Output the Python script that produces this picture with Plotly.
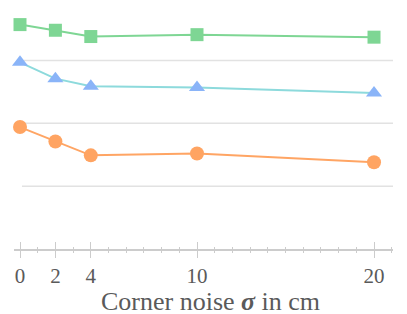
import plotly.graph_objects as go

# Data (y on an arbitrary scale; gridlines every 0.1)
sigma = [0, 2, 4, 10, 20]
series_square = [0.957, 0.948, 0.938, 0.941, 0.937]
series_triangle = [0.897, 0.871, 0.859, 0.857, 0.848]
series_circle = [0.794, 0.771, 0.749, 0.752, 0.738]
tick_vals = [0, 2, 4, 10, 20]
tick_text = ["0", "2", "4", "10", "20"]
grid_vals = [0.7, 0.8, 0.9]
x_title = "Corner noise <b><i>σ</i></b> in cm"

fig = go.Figure()

def add(y, line_color, marker_color, symbol, size):
    fig.add_trace(go.Scatter(
        x=sigma, y=y, mode="lines+markers", cliponaxis=False,
        line=dict(color=line_color, width=2),
        marker=dict(color=marker_color, symbol=symbol, size=size, line=dict(width=0)),
        showlegend=False,
    ))

add(series_circle, "#ffa564", "#ffa462", "circle", 14)
add(series_triangle, "#8ddadc", "#8ab4f8", "triangle-up", 14)
add(series_square, "#7ed694", "#7ed694", "square", 13)

for g in grid_vals:
    fig.add_shape(type="line", xref="paper", yref="y", x0=0.021, x1=1, y0=g, y1=g,
                  line=dict(color="#e2e2e2", width=1.5), layer="below")

fig.add_annotation(text=x_title, xref="paper", yref="paper", x=0.5, y=0,
                   xanchor="center", yanchor="top", xshift=7, yshift=-36, showarrow=False,
                   font=dict(size=26, family="Liberation Serif", color="#5a5a5a"))

xr = [-0.339, 21.073]
fig.update_layout(
    width=407, height=314,
    margin=dict(l=14, r=14, t=7, b=65),
    plot_bgcolor="white", paper_bgcolor="white",
    font=dict(family="Liberation Serif", color="#5a5a5a"),
    xaxis=dict(
        range=xr, showgrid=False, zeroline=False, automargin=False,
        showline=True, linecolor="#cccccc", linewidth=1.5,
        tickmode="array", tickvals=tick_vals, ticktext=tick_text,
        ticks="outside", ticklen=7, tickwidth=1.2, tickcolor="#cccccc",
        tickfont=dict(size=21, family="Liberation Serif", color="#5a5a5a"),
        minor=dict(dtick=1, tick0=0, ticks="outside", ticklen=2, tickcolor="#cccccc", tickwidth=1),
    ),
    xaxis2=dict(
        range=xr, overlaying="x", anchor="y", side="bottom", showgrid=False, zeroline=False,
        showline=False, tickmode="array", tickvals=tick_vals, showticklabels=False, automargin=False,
        ticks="inside", ticklen=7, tickwidth=1.2, tickcolor="#cccccc",
        minor=dict(dtick=1, tick0=0, ticks="inside", ticklen=2, tickcolor="#cccccc", tickwidth=1),
    ),
    yaxis=dict(range=[0.6, 0.985], showgrid=False, zeroline=False, showline=False, automargin=False,
               showticklabels=False, ticks=""),
)
# dummy invisible trace to activate xaxis2
fig.add_trace(go.Scatter(x=[None], y=[None], xaxis="x2", showlegend=False, hoverinfo="skip"))

fig.write_html("out.html", config={"displayModeBar": False},
               post_script="document.body.style.margin='0';document.body.style.overflow='hidden';")
